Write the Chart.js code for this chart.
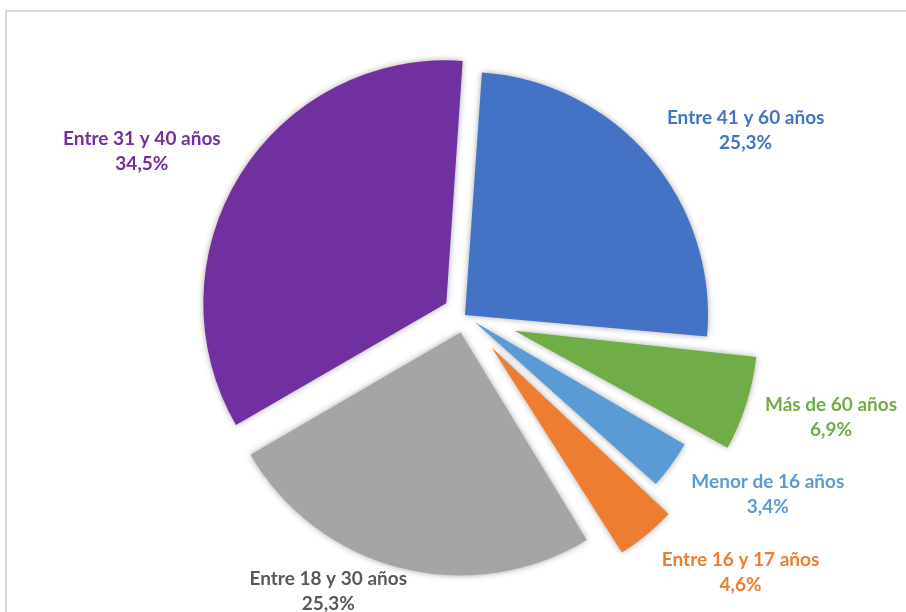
<!DOCTYPE html>
<html><head><meta charset="utf-8">
<script src="https://cdn.jsdelivr.net/npm/chart.js@4.4.1/dist/chart.umd.min.js"></script>
<style>
html,body{margin:0;padding:0;background:#fff;overflow:hidden;}
#wrap{position:relative;width:906px;height:612px;}
#frame{position:absolute;left:5px;top:10px;width:1000px;height:1000px;border:2px solid #d9d9d9;box-sizing:border-box;}
canvas{position:absolute;left:0;top:0;}
</style></head><body>
<div id="wrap"><div id="frame"></div><canvas id="c" width="906" height="612"></canvas></div>
<script>
const categories = ['Entre 41 y 60 años','Más de 60 años','Menor de 16 años','Entre 16 y 17 años','Entre 18 y 30 años','Entre 31 y 40 años'];
const shares = [25.3, 6.9, 3.4, 4.6, 25.3, 34.5];
const sliceColors = ['#4472C4','#70AD47','#5B9BD5','#ED7D31','#A5A5A5','#7030A0'];
const labelColors = ['#4472C4','#70AD47','#5B9BD5','#ED7D31','#595959','#7030A0'];
const explodePx = [0, 52, 12, 42, 18, 22];
const labelAngleShiftDeg = [7.1, -1.9, -5.4, -7.4, 12.1, -5.1];
const labelDistance = [336, 380, 352, 377, 308, 362];
const R = 243;

const fmt = v => v.toFixed(1).replace('.', ',') + '%';

const explodeFix = {
  id: 'explodeFix',
  afterDatasetUpdate(chart, args) {
    const meta = chart.getDatasetMeta(args.index);
    meta.data.forEach((arc, i) => {
      const d = explodePx[i];
      const fix = 1 - Math.sin(Math.min(Math.PI, arc.circumference));
      arc.outerRadius = R - d * fix;
    });
  },
  beforeDatasetsDraw(chart) {
    const ctx = chart.ctx;
    ctx.save();
    ctx.shadowColor = 'rgba(0,0,0,0.35)';
    ctx.shadowBlur = 6;
  },
  afterDatasetsDraw(chart) {
    chart.ctx.restore();
  },
  afterDraw(chart) {
    const ctx = chart.ctx;
    const meta = chart.getDatasetMeta(0);
    ctx.save();
    ctx.font = 'bold 19px Lato';
    ctx.textAlign = 'center';
    ctx.textBaseline = 'middle';
    meta.data.forEach((arc, i) => {
      const mid = (arc.startAngle + arc.endAngle) / 2 + labelAngleShiftDeg[i] * Math.PI / 180;
      const x = arc.x + Math.cos(mid) * labelDistance[i];
      const y = arc.y + Math.sin(mid) * labelDistance[i];
      ctx.fillStyle = labelColors[i];
      ctx.fillText(categories[i], x, y - 12.5);
      ctx.fillText(fmt(shares[i]), x, y + 12.5);
    });
    ctx.restore();
  }
};

new Chart(document.getElementById('c'), {
  type: 'pie',
  data: {
    labels: categories,
    datasets: [{
      data: shares,
      backgroundColor: sliceColors,
      borderWidth: 0,
      offset: explodePx.map(d => d * 4)
    }]
  },
  options: {
    responsive: false,
    animation: false,
    events: [],
    rotation: 4,
    radius: R,
    layout: { padding: { left: 24, top: 18, right: 0, bottom: 0 } },
    plugins: { legend: { display: false }, tooltip: { enabled: false } }
  },
  plugins: [explodeFix]
});
</script>
</body></html>
